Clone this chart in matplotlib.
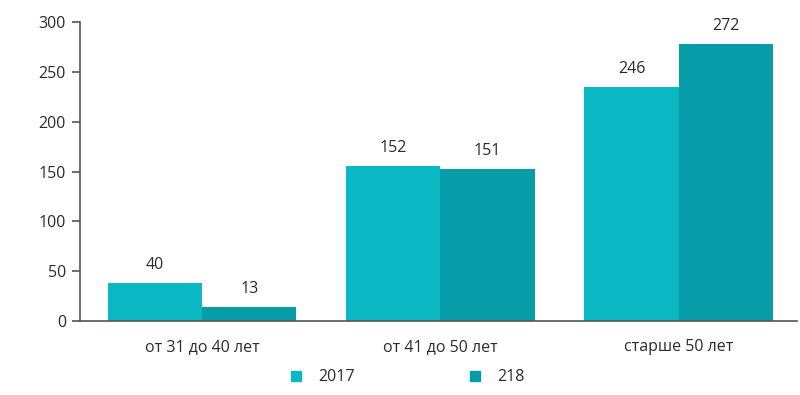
import matplotlib.pyplot as plt
import numpy as np
from matplotlib.lines import Line2D

plt.rcParams['font.family'] = ['Open Sans', 'DejaVu Sans']

categories = ['от 31 до 40 лет', 'от 41 до 50 лет', 'старше 50 лет']
series_names = ['2017', '218']
# bar heights as drawn in the source picture, and the printed labels
heights_2017 = [38, 156, 235]
heights_218 = [14, 152.5, 278]
labels_2017 = ['40', '152', '246']
labels_218 = ['13', '151', '272']
yticks = [0, 50, 100, 150, 200, 250, 300]

col_a = '#0AB8C3'
col_b = '#069DA8'
text_col = '#2b2b2b'

fig = plt.figure(figsize=(8, 3.95), dpi=100)
ax = fig.add_axes([0.1, 0.1873, 0.896, 0.7562])

x = np.arange(len(categories))
w = 0.396
b1 = ax.bar(x - w / 2, heights_2017, w, color=col_a)
b2 = ax.bar(x + w / 2, heights_218, w, color=col_b)

for bars, labs in [(b1, labels_2017), (b2, labels_218)]:
    for bar, lab in zip(bars, labs):
        ax.annotate(lab, (bar.get_x() + bar.get_width() / 2, bar.get_height()),
                    xytext=(0, 7), textcoords='offset points',
                    ha='center', va='bottom', fontsize=11.5, color=text_col)

ax.set_xlim(-0.512, 2.495)
ax.set_ylim(0, 300)
ax.set_yticks(yticks)
ax.set_xticks(x)
ax.set_xticklabels(categories)
ax.tick_params(axis='x', length=0, pad=13, labelsize=11.5, labelcolor=text_col)
ax.tick_params(axis='y', length=6, width=1.2, color='#555555', pad=4,
               labelsize=11.5, labelcolor=text_col)
for s in ['top', 'right']:
    ax.spines[s].set_visible(False)
ax.spines['left'].set_color('#555555')
ax.spines['bottom'].set_color('#555555')
ax.spines['left'].set_linewidth(1.2)
ax.spines['bottom'].set_linewidth(1.2)

handles = [Line2D([], [], marker='s', linestyle='none', markersize=7, color=col_a),
           Line2D([], [], marker='s', linestyle='none', markersize=7, color=col_b)]
fig.legend(handles, series_names, loc='center', bbox_to_anchor=(0.508, 0.045),
           ncol=2, frameon=False, fontsize=11.5, handlelength=1,
           handletextpad=0.9, columnspacing=7.0, labelcolor=text_col)

fig.savefig('out.png', dpi=100)
